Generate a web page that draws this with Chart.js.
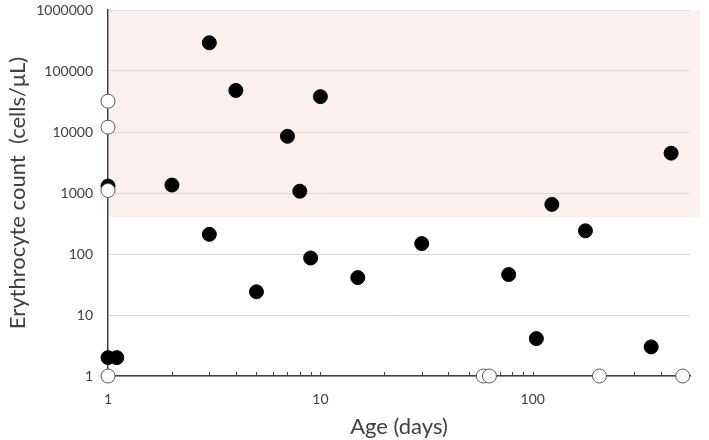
<!DOCTYPE html>
<html>
<head>
<meta charset="utf-8">
<script src="https://cdn.jsdelivr.net/npm/chart.js@4"></script>
<style>
  html, body { margin: 0; padding: 0; background: #fff; }
  #chart { display: block; }
</style>
</head>
<body>
<canvas id="chart" width="709" height="440"></canvas>
<script>
// Age (days) vs erythrocyte count, log-log
const filledAge   = [1, 1, 1.1, 2, 3, 3, 4, 5, 7, 8, 9, 10, 15, 30, 77, 104, 123, 177, 361, 448];
const filledCount = [1300, 2, 2, 1350, 290000, 210, 48000, 24, 8500, 1070, 86, 38000, 41, 148, 46, 4.1, 650, 240, 3, 4500];

const openAge   = [1, 1, 1, 1, 58.5, 62.5, 206, 508];
const openCount = [32000, 12000, 1100, 1, 1, 1, 1, 1];

const yTickValues = [1, 10, 100, 1000, 10000, 100000, 1000000];
const shadedFrom = 400;
const shadedTo = 1000000;

const axisColor = "#404040";
const textColor = "#404040";

Chart.defaults.font.family = "Lato";
Chart.defaults.color = textColor;

const toPoints = (xs, ys) => xs.map((x, i) => ({ x, y: ys[i] }));
const isDecade = (v) => { const l = Math.log10(v); return Math.abs(l - Math.round(l)) < 1e-9; };

// pink band behind the grid
const shadedBand = {
  id: "shadedBand",
  beforeDraw(chart) {
    const { ctx, chartArea, scales } = chart;
    const top = scales.y.getPixelForValue(shadedTo);
    const bottom = scales.y.getPixelForValue(shadedFrom);
    ctx.save();
    ctx.fillStyle = "#fdf1ef";
    ctx.fillRect(chartArea.left + 1, top, chartArea.right - chartArea.left + 9, bottom - top);
    ctx.restore();
  },
};

// small inward tick marks on the x axis (2..9 of every decade)
const innerTicks = {
  id: "innerTicks",
  beforeDatasetsDraw(chart) {
    const { ctx, scales } = chart;
    const x = scales.x;
    const base = x.top;
    ctx.save();
    ctx.strokeStyle = axisColor;
    ctx.lineWidth = 1;
    x.ticks.forEach((t) => {
      const m = t.value / Math.pow(10, Math.floor(Math.log10(t.value) + 1e-9));
      if (t.value <= 1 || Math.abs(m - Math.round(m)) > 1e-6) return;
      const px = Math.round(x.getPixelForValue(t.value)) + 0.5;
      ctx.beginPath();
      ctx.moveTo(px, base);
      ctx.lineTo(px, base - 4);
      ctx.stroke();
    });
    ctx.restore();
  },
};

new Chart(document.getElementById("chart"), {
  type: "scatter",
  data: {
    datasets: [
      {
        label: "open",
        data: toPoints(openAge, openCount),
        backgroundColor: "#ffffff",
        borderColor: "#595959",
        borderWidth: 1,
        pointRadius: 7,
        pointHoverRadius: 7,
        clip: false,
        order: 0,
      },
      {
        label: "filled",
        data: toPoints(filledAge, filledCount),
        backgroundColor: "#000000",
        borderColor: "#000000",
        borderWidth: 1,
        pointRadius: 7,
        pointHoverRadius: 7,
        clip: false,
        order: 1,
      },
    ],
  },
  options: {
    responsive: false,
    animation: false,
    layout: { padding: { top: 10, right: 19, left: 0, bottom: 0 } },
    plugins: { legend: { display: false }, tooltip: { enabled: false } },
    scales: {
      x: {
        type: "logarithmic",
        min: 1,
        max: 550,
        afterFit: (s) => { s.height = 64; },
        grid: { drawOnChartArea: false, drawTicks: false },
        border: { display: true, color: axisColor, width: 1.5 },
        ticks: {
          autoSkip: false,
          maxRotation: 0,
          padding: 15,
          font: { size: 14 },
          color: textColor,
          callback: (v) => (isDecade(v) ? String(v) : ""),
        },
        title: {
          display: true,
          text: "Age (days)",
          font: { size: 22 },
          color: textColor,
          padding: { top: 0, bottom: 0 },
        },
      },
      y: {
        type: "logarithmic",
        min: 1,
        max: 1000000,
        afterFit: (s) => { s.width = 108; },
        afterBuildTicks: (s) => { s.ticks = yTickValues.map((v) => ({ value: v })); },
        grid: { color: "#dedada", lineWidth: 1, drawTicks: true, tickLength: 15, tickColor: "rgba(0,0,0,0)" },
        border: { display: true, color: axisColor, width: 1.5 },
        ticks: {
          padding: 0,
          font: { size: 14 },
          color: textColor,
          callback: (v) => String(v),
        },
        title: {
          display: true,
          text: "Erythrocyte count  (cells/μL)",
          font: { size: 22 },
          color: textColor,
          padding: { top: 5, bottom: 0 },
        },
      },
    },
  },
  plugins: [shadedBand, innerTicks],
});
</script>
</body>
</html>
